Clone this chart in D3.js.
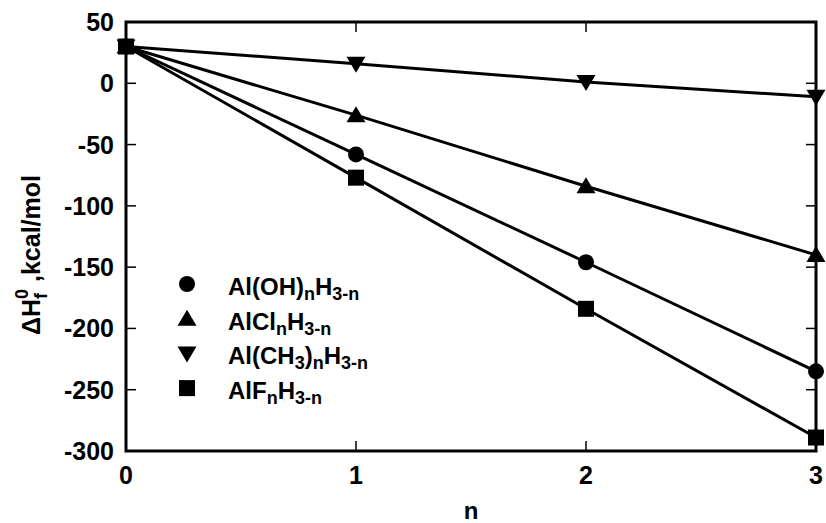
<!DOCTYPE html>
<html>
<head>
<meta charset="utf-8">
<script src="https://cdn.jsdelivr.net/npm/d3@7"></script>
<style>
  body { margin: 0; background: #fff; }
  text { font-family: "Liberation Sans", Arial, sans-serif; font-weight: bold; fill: #000; }
</style>
</head>
<body>
<div id="chart"></div>
<script>
// values
var nValues = [0, 1, 2, 3];
var ohValues = [30, -58, -146, -235];
var clValues = [30, -26, -84, -140];
var ch3Values = [30, 16, 1, -11];
var fValues = [30, -77, -184, -289];
var xTicks = [0, 1, 2, 3];
var yTicks = [50, 0, -50, -100, -150, -200, -250, -300];

var series = [
    { values: ohValues, symbol: 'circle', name: ['Al(OH)', 'n', 'H', '3-n'] },
    { values: clValues, symbol: 'up', name: ['AlCl', 'n', 'H', '3-n'] },
    { values: ch3Values, symbol: 'down', name: ['Al(CH', '3', ')', 'n', 'H', '3-n'] },
    { values: fValues, symbol: 'square', name: ['AlF', 'n', 'H', '3-n'] }
];

var W = 826, H = 523;
var pLeft = 126, pTop = 22, pRight = 816, pBottom = 451;

var svg = d3.select('#chart').append('svg').attr('width', W).attr('height', H);

var x = d3.scaleLinear().domain([0, 3]).range([pLeft, pRight]);
var y = d3.scaleLinear().domain([-300, 50]).range([pBottom, pTop]);

// ticks, inward on all four sides
var tickLen = 10;
var ticks = svg.append('g').attr('stroke', '#000').attr('stroke-width', 1.5);
yTicks.forEach(function (t) {
    ticks.append('line').attr('x1', pLeft).attr('x2', pLeft + tickLen).attr('y1', y(t)).attr('y2', y(t));
    ticks.append('line').attr('x1', pRight).attr('x2', pRight - tickLen).attr('y1', y(t)).attr('y2', y(t));
});
xTicks.forEach(function (t) {
    ticks.append('line').attr('x1', x(t)).attr('x2', x(t)).attr('y1', pBottom).attr('y2', pBottom - tickLen);
    ticks.append('line').attr('x1', x(t)).attr('x2', x(t)).attr('y1', pTop).attr('y2', pTop + tickLen);
});

svg.append('rect')
    .attr('x', pLeft).attr('y', pTop)
    .attr('width', pRight - pLeft).attr('height', pBottom - pTop)
    .attr('fill', 'none').attr('stroke', '#000').attr('stroke-width', 3);

svg.append('g').selectAll('text').data(yTicks).enter().append('text')
    .attr('x', pLeft - 12).attr('y', function (d) { return y(d) + 9; })
    .attr('text-anchor', 'end').attr('font-size', 25)
    .text(function (d) { return d; });

svg.append('g').selectAll('text').data(xTicks).enter().append('text')
    .attr('x', function (d) { return x(d); }).attr('y', pBottom + 33)
    .attr('text-anchor', 'middle').attr('font-size', 25)
    .text(function (d) { return d; });

// axis titles
svg.append('text').attr('x', 471).attr('y', 519).attr('text-anchor', 'middle')
    .attr('font-size', 24).text('n');

var yt = svg.append('text').attr('transform', 'translate(40,255) rotate(-90)')
    .attr('text-anchor', 'middle').attr('font-size', 25);
yt.append('tspan').text('\u0394H');
yt.append('tspan').attr('font-size', 18).attr('dy', 7).text('f');
yt.append('tspan').attr('font-size', 18).attr('dy', -19).attr('dx', -6).text('0');
yt.append('tspan').attr('dy', 12).text(' ,kcal/mol');

// lines
var line = d3.line().x(function (d, i) { return x(nValues[i]); }).y(function (d) { return y(d); });
series.forEach(function (s) {
    svg.append('path').attr('d', line(s.values))
        .attr('fill', 'none').attr('stroke', '#000').attr('stroke-width', 3);
});

function drawMarker(g, sym, cx, cy) {
    if (sym === 'circle') {
        g.append('circle').attr('cx', cx).attr('cy', cy).attr('r', 8);
    } else if (sym === 'square') {
        g.append('rect').attr('x', cx - 8).attr('y', cy - 8).attr('width', 16).attr('height', 16);
    } else if (sym === 'up') {
        g.append('path').attr('d', 'M' + cx + ',' + (cy - 9) + 'L' + (cx + 9.5) + ',' + (cy + 7) + 'L' + (cx - 9.5) + ',' + (cy + 7) + 'Z');
    } else {
        g.append('path').attr('d', 'M' + cx + ',' + (cy + 9) + 'L' + (cx + 9.5) + ',' + (cy - 7) + 'L' + (cx - 9.5) + ',' + (cy - 7) + 'Z');
    }
}

var marks = svg.append('g').attr('fill', '#000');
series.forEach(function (s) {
    s.values.forEach(function (v, i) {
        drawMarker(marks, s.symbol, x(nValues[i]), y(v));
    });
});

// legend
var legend = svg.append('g').attr('fill', '#000');
series.forEach(function (s, i) {
    var ly = 284 + i * 34.7;
    drawMarker(legend, s.symbol, 187, ly);
    var t = legend.append('text').attr('x', 228).attr('y', ly + 11).attr('font-size', 24);
    s.name.forEach(function (part, k) {
        var isSub = /^(n|3|3-n)$/.test(part);
        var ts = t.append('tspan').text(part);
        if (isSub) ts.attr('font-size', 18).attr('dy', 5);
        else if (k > 0 && /^(n|3|3-n)$/.test(s.name[k - 1])) ts.attr('dy', -5);
    });
});
</script>
</body>
</html>
